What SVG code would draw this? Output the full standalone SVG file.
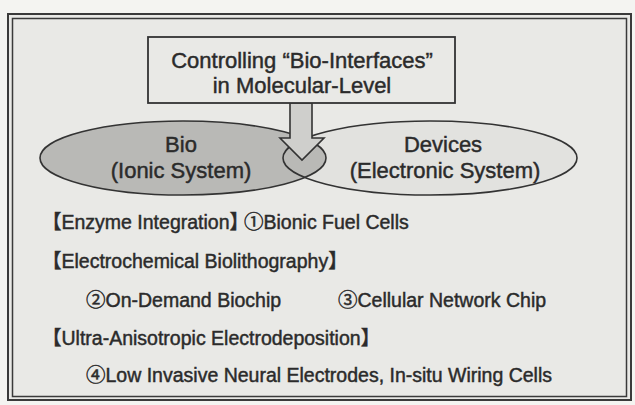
<svg xmlns="http://www.w3.org/2000/svg" width="635" height="405" viewBox="0 0 635 405">
<style>
.t{font-family:"Liberation Sans","Noto Sans CJK JP",sans-serif;fill:#2b2b2b;stroke:#2b2b2b;stroke-width:0.45}
.big{font-size:22px}
.sm{font-size:19.5px}
.ln{fill:none;stroke:#333;stroke-width:1.6}
</style>
<rect x="0" y="0" width="635" height="405" fill="#f4f4f1"/>
<g id="frame">
<rect x="8" y="14" width="623" height="386" fill="#e9e9e6" stroke="#3a3a3a" stroke-width="2"/>
<rect x="12.5" y="18.5" width="614" height="378" fill="none" stroke="#3a3a3a" stroke-width="1.5"/>
</g>
<g id="devices">
<ellipse cx="430" cy="158" rx="147" ry="37" fill="#e2e2df"/>
</g>
<g id="bio">
<ellipse cx="183" cy="158" rx="143" ry="37" fill="#b9b9b6" stroke="#333" stroke-width="1.6"/>
<text class="t big" x="181" y="152" text-anchor="middle">Bio</text>
<text class="t big" x="181" y="178" text-anchor="middle">(Ionic System)</text>
</g>
<g id="devices-outline">
<ellipse class="ln" cx="430" cy="158" rx="147" ry="37"/>
<text class="t big" x="443" y="152" text-anchor="middle">Devices</text>
<text class="t big" x="445" y="178" text-anchor="middle">(Electronic System)</text>
</g>
<g id="connectors">
<polygon points="290,103 290,138 280,138 302,160 324,138 312,138 312,103" fill="#cfcfcc" stroke="#333" stroke-width="1.6" stroke-linejoin="miter"/>
</g>
<g id="title">
<rect x="148" y="37" width="307" height="66" fill="#e9e9e6" stroke="#333" stroke-width="1.8"/>
<text class="t big" x="302" y="68" text-anchor="middle">Controlling “Bio-Interfaces”</text>
<text class="t big" x="302" y="93" text-anchor="middle">in Molecular-Level</text>
</g>
<g id="list">
<text class="t sm" x="42" y="229">【Enzyme Integration】<tspan dx="-5">①Bionic Fuel Cells</tspan></text>
<text class="t sm" x="42" y="268">【Electrochemical Biolithography】</text>
<text class="t sm" x="86" y="307">②On-Demand Biochip</text>
<text class="t sm" x="338" y="307">③Cellular Network Chip</text>
<text class="t sm" x="42" y="345">【Ultra-Anisotropic Electrodeposition】</text>
<text class="t sm" x="86" y="382">④Low Invasive Neural Electrodes,  In-situ Wiring Cells</text>
</g>
</svg>
